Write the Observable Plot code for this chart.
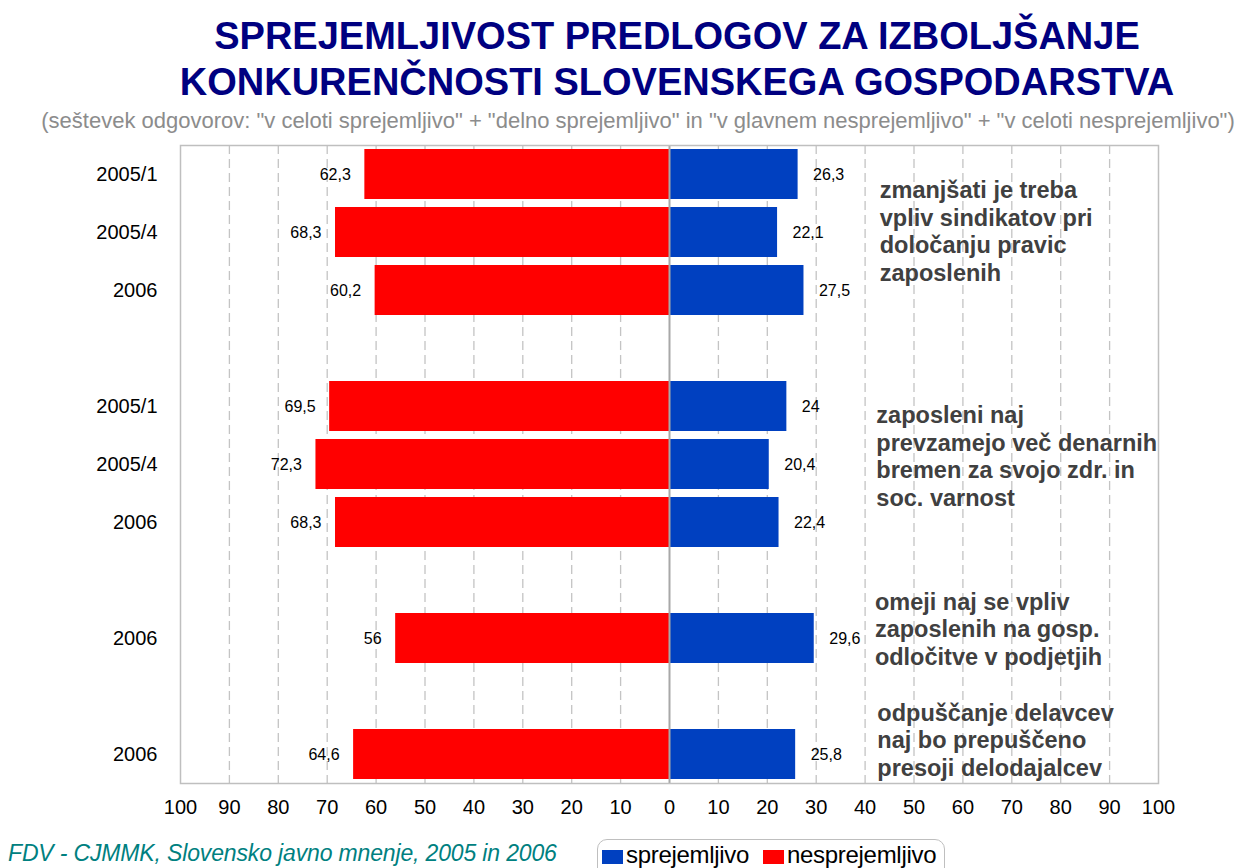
<!DOCTYPE html>
<html>
<head>
<meta charset="utf-8">
<script src="https://cdn.jsdelivr.net/npm/d3@7"></script>
<script src="https://cdn.jsdelivr.net/npm/@observablehq/plot@0.6"></script>
<style>
  html, body { margin: 0; padding: 0; background: #fff; }
  body { width: 1242px; height: 868px; position: relative; overflow: hidden; font-family: "Liberation Sans", Arial, sans-serif; }
  #header { height: 138px; position: relative; }
  #title { position: absolute; left: 0; top: 13px; width: 1242px; padding-left: 112px; box-sizing: border-box; text-align: center;
           font-weight: bold; font-size: 38px; line-height: 46px; color: #000080; white-space: nowrap; }
  #subtitle { position: absolute; left: 0; top: 108px; width: 1242px; padding-left: 34px; box-sizing: border-box; text-align: center;
           font-size: 22px; color: #8C8C8C; white-space: nowrap; }
  #chart svg { display: block; }
  #caption { position: absolute; left: 8px; top: 840px; font-style: italic; font-size: 23px; letter-spacing: -0.15px; color: #008080; white-space: nowrap; }
  #legend { position: absolute; left: 597px; top: 839px; width: 346px; height: 40px; border: 1.5px solid #BFBFBF; border-radius: 10px;
            font-size: 24px; letter-spacing: -0.3px; color: #000; }
  #legend .item { position: absolute; top: 1px; white-space: nowrap; }
  #legend .sw { display: inline-block; width: 21px; height: 14px; vertical-align: -1px; margin-right: 3px; }
</style>
</head>
<body>
<div id="header">
  <div id="title">SPREJEMLJIVOST PREDLOGOV ZA IZBOLJŠANJE<br>KONKURENČNOSTI SLOVENSKEGA GOSPODARSTVA</div>
  <div id="subtitle">(seštevek odgovorov: "v celoti sprejemljivo" + "delno sprejemljivo" in "v glavnem nesprejemljivo" + "v celoti nesprejemljivo")</div>
</div>
<div id="chart"></div>
<div id="caption">FDV - CJMMK, Slovensko javno mnenje, 2005 in 2006</div>
<div id="legend">
  <span class="item" style="left:4px"><span class="sw" style="background:#0040C0"></span>sprejemljivo</span>
  <span class="item" style="left:165px"><span class="sw" style="background:#FF0000"></span>nesprejemljivo</span>
</div>
<script>
// ---- data ----
const questions = [
  "zmanjšati je treba\nvpliv sindikatov pri\ndoločanju pravic\nzaposlenih",
  "zaposleni naj\nprevzamejo več denarnih\nbremen za svojo zdr. in\nsoc. varnost",
  "omeji naj se vpliv\nzaposlenih na gosp.\nodločitve v podjetjih",
  "odpuščanje delavcev\nnaj bo prepuščeno\npresoji delodajalcev"
];
const questionOfRow = [0, 0, 0, 1, 1, 1, 2, 3];
const periods = ["2005/1", "2005/4", "2006", "2005/1", "2005/4", "2006", "2006", "2006"];
const sprejemljivo = [26.3, 22.1, 27.5, 24, 20.4, 22.4, 29.6, 25.8];
const nesprejemljivo = [62.3, 68.3, 60.2, 69.5, 72.3, 68.3, 56, 64.6];
const xTicks = [-100, -90, -80, -70, -60, -50, -40, -30, -20, -10, 0, 10, 20, 30, 40, 50, 60, 70, 80, 90, 100];

// ---- build table ----
const rows = periods.map((p, i) => ({
  key: `q${questionOfRow[i]}-${p}`,
  q: questionOfRow[i],
  period: p,
  accept: sprejemljivo[i],
  reject: nesprejemljivo[i]
}));
// y domain: rows of each question, with a spacer between questions
const yDomain = [];
questions.forEach((q, qi) => {
  if (qi > 0) yDomain.push(`gap${qi}`);
  rows.filter(r => r.q === qi).forEach(r => yDomain.push(r.key));
});
const labelOf = new Map(rows.map(r => [r.key, r.period]));
const notes = questions.map((text, qi) => {
  const rs = rows.filter(r => r.q === qi);
  return { text, key: rs[Math.floor((rs.length - 1) / 2)].key };
});
const fmt = v => String(v).replace(".", ",");

// vertical nudges of the note blocks (style only)
const noteDy = [-2, -9, -10, -15];
const noteX = [43, 42.3, 42, 42.5];

const chart = Plot.plot({
  width: 1242,
  height: 697,
  marginTop: 7,
  marginBottom: 52,
  marginLeft: 180,
  marginRight: 84,
  style: { fontFamily: "'Liberation Sans', Arial, sans-serif", fontSize: "20px", color: "#000", background: "#fff" },
  x: { domain: [-100, 100], label: null },
  y: { domain: yDomain, paddingInner: 0.14, paddingOuter: 0.07, label: null },
  marks: [
    Plot.ruleX(xTicks.filter(d => d !== 0 && Math.abs(d) !== 100), { stroke: "#C4C4C4", strokeWidth: 1.3, strokeDasharray: "9,5" }),
    Plot.barX(rows, { x1: 0, x2: d => -d.reject, y: "key", fill: "#FF0000" }),
    Plot.barX(rows, { x1: 0, x2: "accept", y: "key", fill: "#0040C0" }),
    Plot.ruleX([0], { stroke: "#A8A8A8", strokeWidth: 2 }),
    Plot.frame({ stroke: "#BFBFBF", strokeWidth: 1.5 }),
    Plot.text(rows, { x: d => -d.reject, y: "key", text: d => fmt(d.reject), textAnchor: "end", dx: -14, fontSize: 16, fill: "#000" }),
    Plot.text(rows, { x: "accept", y: "key", text: d => fmt(d.accept), textAnchor: "start", dx: 15, fontSize: 16, fill: "#000" }),
    ...notes.map((n, i) => Plot.text([n], { x: () => noteX[i], y: "key", text: "text", textAnchor: "start", fontWeight: "bold", fontSize: 23.5, lineHeight: 1.17, fill: "#404040", dy: noteDy[i] })),
    Plot.axisX({ ticks: xTicks, tickFormat: d => Math.abs(d), tickSize: 0, tickPadding: 16, fontSize: 20, label: null }),
    Plot.axisY({ tickSize: 0, tickPadding: 23, fontSize: 20, tickFormat: k => labelOf.get(k) ?? "", label: null })
  ]
});
document.getElementById("chart").appendChild(chart);
</script>
</body>
</html>
